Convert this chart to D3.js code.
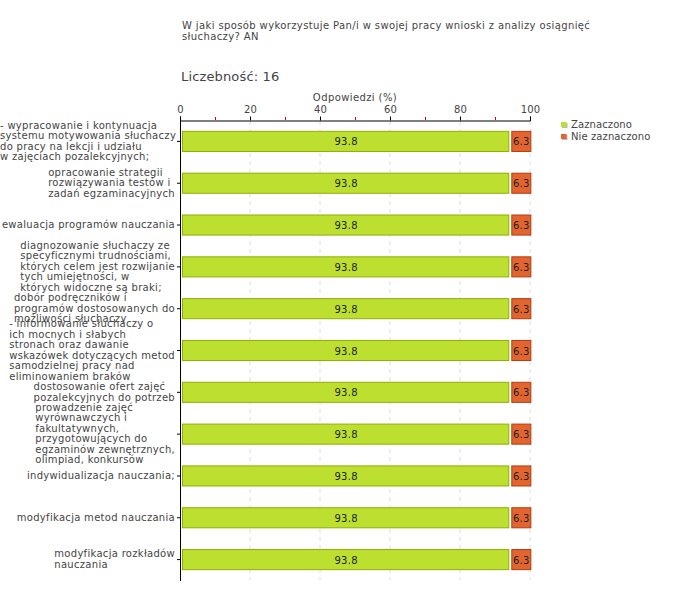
<!DOCTYPE html>
<html><head><meta charset="utf-8">
<script src="https://cdn.jsdelivr.net/npm/d3@7"></script>
<style>body{margin:0;background:#fff}svg{display:block}text{font-family:"DejaVu Sans",Verdana,sans-serif}</style>
</head><body>
<svg id="c" width="680" height="600"></svg>
<script>
const titleLines = ["W jaki sposób wykorzystuje Pan/i w swojej pracy wnioski z analizy osiągnięć", "słuchaczy? AN"];
const countLabel = "Liczebność: 16";
const axisTitle = "Odpowiedzi (%)";
const categories = [
  ["- wypracowanie i kontynuacja", "systemu motywowania słuchaczy", "do pracy na lekcji i udziału", "w zajęciach pozalekcyjnych;"],
  ["opracowanie strategii", "rozwiązywania testów i", "zadań egzaminacyjnych"],
  ["ewaluacja programów nauczania"],
  ["diagnozowanie słuchaczy ze", "specyficznymi trudnościami,", "których celem jest rozwijanie", "tych umiejętności, w", "których widoczne są braki;"],
  ["dobór podręczników i", "programów dostosowanych do", "możliwości słuchaczy"],
  ["- informowanie słuchaczy o", "ich mocnych i słabych", "stronach oraz dawanie", "wskazówek dotyczących metod", "samodzielnej pracy nad", "eliminowaniem braków"],
  ["dostosowanie ofert zajęć", "pozalekcyjnych do potrzeb"],
  ["prowadzenie zajęć", "wyrównawczych i", "fakultatywnych,", "przygotowujących do", "egzaminów zewnętrznych,", "olimpiad, konkursów"],
  ["indywidualizacja nauczania;"],
  ["modyfikacja metod nauczania"],
  ["modyfikacja rozkładów", "nauczania"]
];
const seriesNames = ["Zaznaczono", "Nie zaznaczono"];
const zaznaczono = [93.8, 93.8, 93.8, 93.8, 93.8, 93.8, 93.8, 93.8, 93.8, 93.8, 93.8];
const nieZaznaczono = [6.3, 6.3, 6.3, 6.3, 6.3, 6.3, 6.3, 6.3, 6.3, 6.3, 6.3];
const majorTicks = [0, 20, 40, 60, 80, 100];
const minorTicks = [10, 30, 50, 70, 90];

const fills = ["#bde030", "#e2652f"];
const strokes = ["#8fae00", "#b23c10"];

const svg = d3.select("#c");
const x = d3.scaleLinear().domain([0, 100]).range([180, 530]);
const idx = categories.map((d, i) => i);
const y = d3.scaleBand().domain(idx).range([120, 580]).paddingInner(0.52).paddingOuter(0.26);

// title
const tt = svg.append("text").attr("x", 182).attr("y", 29).attr("fill", "#444").style("font-size", "10px").style("letter-spacing", "0.38px");
titleLines.forEach((l, i) => tt.append("tspan").attr("x", 182).attr("dy", i ? 11 : 0).text(l));
svg.append("text").attr("x", 181).attr("y", 81).attr("fill", "#444").style("font-size", "13px").style("letter-spacing", "0.15px").text(countLabel);
svg.append("text").attr("x", 355).attr("y", 101).attr("text-anchor", "middle").attr("fill", "#444").style("font-size", "10px").style("letter-spacing", "0.4px").text(axisTitle);

// grid
svg.append("g").selectAll("line").data(majorTicks.slice(1)).join("line")
  .attr("x1", d => x(d)).attr("x2", d => x(d)).attr("y1", 121).attr("y2", 580)
  .attr("stroke", "#dcdcdc").attr("stroke-dasharray", "4,4");

// top axis
const ax = svg.append("g").attr("transform", "translate(0,120.5)")
  .call(d3.axisTop(x).tickValues(majorTicks).tickSize(4).tickPadding(4).tickFormat(d3.format("d")));
ax.select(".domain").attr("stroke", "#000");
ax.selectAll(".tick line").attr("stroke", "#000");
ax.selectAll(".tick text").attr("fill", "#444").style("font-size", "10px").style("letter-spacing", "0.2px").style("font-family", "DejaVu Sans");
svg.append("g").selectAll("line").data(minorTicks).join("line")
  .attr("x1", d => x(d) + 0.5).attr("x2", d => x(d) + 0.5).attr("y1", 117).attr("y2", 120)
  .attr("stroke", "#cc0000");

// left axis
svg.append("line").attr("x1", 180.5).attr("x2", 180.5).attr("y1", 120).attr("y2", 581).attr("stroke", "#000");
svg.append("g").selectAll("line").data(idx).join("line")
  .attr("x1", 177).attr("x2", 180).attr("y1", d => y(d) + y.bandwidth() / 2 + 0.5).attr("y2", d => y(d) + y.bandwidth() / 2 + 0.5)
  .attr("stroke", "#000");

// labels
const lh = 10.5;
const lg = svg.append("g").attr("fill", "#444").style("font-size", "10px").style("letter-spacing", "0.3px");
categories.forEach((lines, i) => {
  const cy = y(i) + y.bandwidth() / 2;
  const t = lg.append("text");
  lines.forEach((l, j) => t.append("tspan").attr("x", 0).attr("y", cy + 3.5 + (j - (lines.length - 1) / 2) * lh).text(l));
  const w = t.node().getBBox().width;
  t.attr("transform", `translate(${Math.max(0, 175 - w)},0)`);
});

// bars
const bars = svg.append("g");
bars.selectAll("rect.a").data(zaznaczono).join("rect").attr("class", "a")
  .attr("x", x(0) + 2.5).attr("y", (d, i) => y(i) + 0.5)
  .attr("width", d => x(d) - x(0) - 2).attr("height", y.bandwidth())
  .attr("fill", fills[0]).attr("stroke", strokes[0]);
bars.selectAll("rect.b").data(nieZaznaczono).join("rect").attr("class", "b")
  .attr("x", (d, i) => x(zaznaczono[i]) + 3.5).attr("y", (d, i) => y(i) + 0.5)
  .attr("width", (d, i) => x(zaznaczono[i] + d) - x(zaznaczono[i]) - 3).attr("height", y.bandwidth())
  .attr("fill", fills[1]).attr("stroke", strokes[1]);
const vl = svg.append("g").attr("fill", "#222").style("font-size", "10px").style("letter-spacing", "0.3px").attr("text-anchor", "middle");
zaznaczono.forEach((d, i) => {
  vl.append("text").attr("x", (x(0) + x(d)) / 2 + 2).attr("y", y(i) + y.bandwidth() / 2 + 4.5).text(d.toFixed(1));
  const e = nieZaznaczono[i];
  vl.append("text").attr("x", (x(d) + x(d + e)) / 2 + 2).attr("y", y(i) + y.bandwidth() / 2 + 4.5).text(e.toFixed(1));
});

// legend
const leg = svg.append("g");
seriesNames.forEach((s, i) => {
  const yy = 122 + i * 12;
  leg.append("rect").attr("x", 562).attr("y", yy + 1).attr("width", 5.5).attr("height", 5).attr("fill", "#bbb");
  leg.append("rect").attr("x", 561).attr("y", yy).attr("width", 5.5).attr("height", 5).attr("fill", fills[i]);
  leg.append("text").attr("x", 571).attr("y", yy + 6).attr("fill", "#444").style("font-size", "10px").style("letter-spacing", "0.1px").text(s);
});
</script>
</body></html>
